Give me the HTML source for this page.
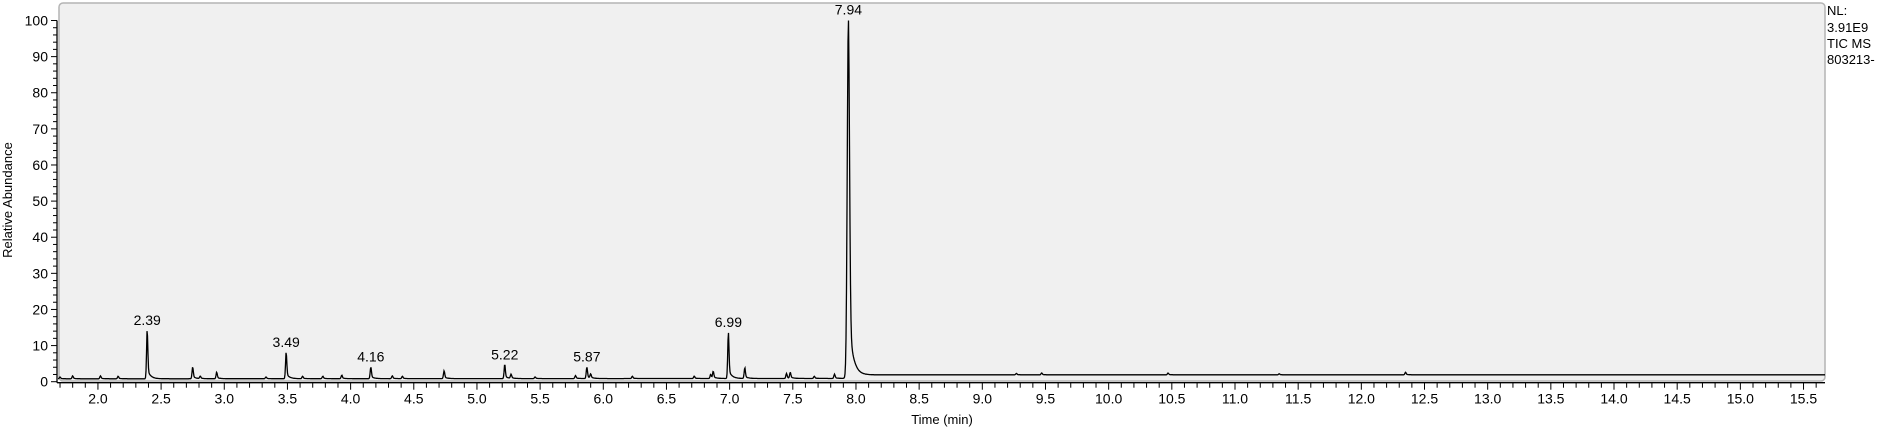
<!DOCTYPE html>
<html><head><meta charset="utf-8"><style>
body{margin:0;background:#fff;}
svg{display:block;font-family:"Liberation Sans",Arial,sans-serif;}
</style></head><body>
<svg id="c" width="1877" height="434" xmlns="http://www.w3.org/2000/svg">
<rect x="59" y="3" width="1766" height="378" rx="4" fill="#f0f0f0" stroke="#b4b4b4" stroke-width="1.5"/>
<g id="axes"></g>
<path id="trace" fill="none" stroke="#000" stroke-width="1.3"/>
<g id="labels"></g>
<text x="12" y="200" font-size="13" text-anchor="middle" transform="rotate(-90 12 200)">Relative Abundance</text>
<text x="942" y="424" font-size="13" text-anchor="middle">Time (min)</text>
<g font-size="13">
<text x="1827" y="15">NL:</text>
<text x="1827" y="32">3.91E9</text>
<text x="1827" y="48">TIC  MS</text>
<text x="1827" y="64">803213-</text>
</g>
</svg>
<script>
const peakTimes=[1.70,1.80,2.02,2.16,2.39,2.75,2.81,2.94,3.33,3.49,3.62,3.78,3.93,4.16,4.33,4.41,4.74,5.22,5.27,5.46,5.78,5.87,5.90,6.23,6.72,6.85,6.87,6.99,7.12,7.45,7.48,7.67,7.83,7.94,9.27,9.47,10.47,11.35,12.35];
const peakHeights=[1.3,1.6,1.6,1.5,14,4,1.5,2.6,1.3,8,1.5,1.5,1.8,4,1.6,1.5,3,4.5,2,1.3,1.7,4,2,1.5,1.5,2,2.8,13.5,3.8,2.3,2.5,1.5,2.1,100,2.3,2.4,2.4,2.2,2.6];
const baseTimes=[1.68,7.90,8.00,15.67];
const baseValues=[0.8,0.9,1.9,1.9];
const peakLabels=["2.39","3.49","4.16","5.22","5.87","6.99","7.94"];
const yTicks=[0,10,20,30,40,50,60,70,80,90,100];
const xTicks=["2.0","2.5","3.0","3.5","4.0","4.5","5.0","5.5","6.0","6.5","7.0","7.5","8.0","8.5","9.0","9.5","10.0","10.5","11.0","11.5","12.0","12.5","13.0","13.5","14.0","14.5","15.0","15.5"];

const X0=57,X1=1825,T0=1.676,T1=15.67,Y0=381.7,Y100=20.5;
const xs=t=>X0+(t-T0)*(X1-X0)/(T1-T0);
const ys=v=>Y0-(v)*(Y0-Y100)/100;
const NS="http://www.w3.org/2000/svg";
const axes=document.getElementById('axes');
function mk(tag,attrs,parent){const e=document.createElementNS(NS,tag);for(const k in attrs)e.setAttribute(k,attrs[k]);parent.appendChild(e);return e;}

let yl=mk('line',{x1:X0,y1:Y100,x2:X0,y2:Y0+1,stroke:'#000','stroke-width':1.3},axes);


let xl=mk('line',{x1:X0,y1:Y0+1,x2:X1,y2:Y0+1,stroke:'#000','stroke-width':1.3},axes);


for(let v=0;v<=100;v+=2){const y=ys(v);const major=v%10===0;
  mk('line',{x1:X0-(major?6:4),y1:y,x2:X0,y2:y,stroke:'#000','stroke-width':1},axes);}
yTicks.forEach(v=>{const t=mk('text',{x:X0-9,y:ys(v)+5,'font-size':14,'text-anchor':'end'},axes);t.textContent=v;
  
  });
for(let i=Math.ceil(T0*10);i<=Math.floor(T1*10);i++){const x=xs(i/10);const major=i%5===0;
  mk('line',{x1:x,y1:Y0+1,x2:x,y2:Y0+(major?8:6),stroke:'#000','stroke-width':1},axes);}
xTicks.forEach(s=>{const t=mk('text',{x:xs(parseFloat(s)),y:Y0+22,'font-size':14,'text-anchor':'middle'},axes);t.textContent=s;
  
  });

function base(t){for(let i=0;i<baseTimes.length-1;i++){if(t<=baseTimes[i+1]){const f=(t-baseTimes[i])/(baseTimes[i+1]-baseTimes[i]);return baseValues[i]+f*(baseValues[i+1]-baseValues[i]);}}return baseValues[baseValues.length-1];}
function signal(t){let s=base(t);peakTimes.forEach((p,i)=>{const h=peakHeights[i]-base(p);const w=h>50?0.009:0.005;const d=t-p;
  let g;if(d<0)g=Math.exp(-d*d/(2*w*w));else g=0.8*Math.exp(-d*d/(2*w*w))+0.2*Math.exp(-d/(h>50?0.03:0.025));
  s+=Math.max(0,h)*g;});return s;}
let d='';
for(let px=X0+1;px<=X1;px+=0.5){const t=T0+(px-X0)*(T1-T0)/(X1-X0);
  let v=signal(t);
  peakTimes.forEach((p,i)=>{if(Math.abs(xs(p)-px)<0.26)v=Math.max(v,peakHeights[i]);});
  d+=(d?'L':'M')+px.toFixed(1)+','+ys(v).toFixed(1);}
document.getElementById('trace').setAttribute('d',d);

const lg=document.getElementById('labels');
peakLabels.forEach(s=>{const t=parseFloat(s);const i=peakTimes.indexOf(t);const h=peakHeights[i];
  const e=mk('text',{x:xs(t),y:ys(h)-6,'font-size':14,'text-anchor':'middle'},lg);e.textContent=s;
  
  });
</script>
</body></html>
